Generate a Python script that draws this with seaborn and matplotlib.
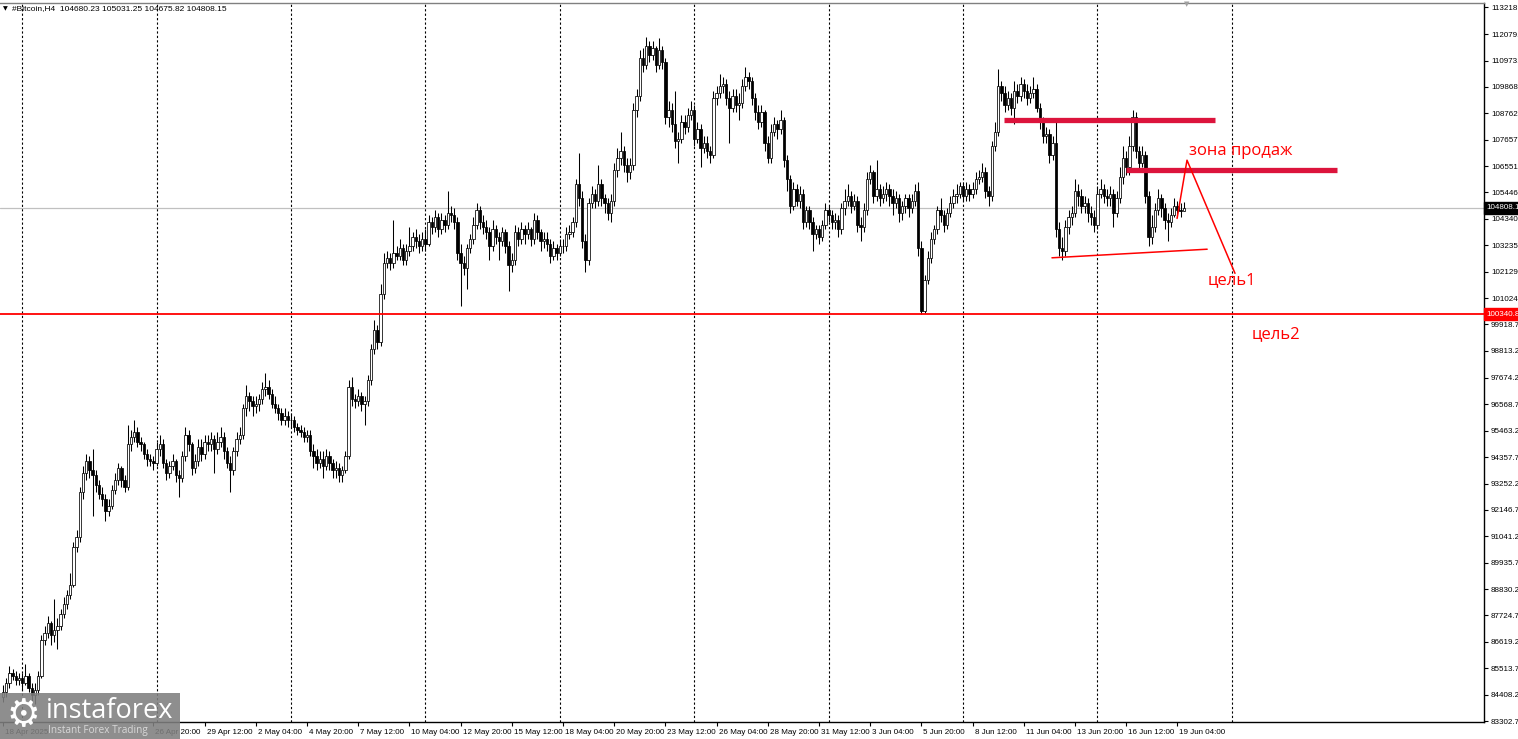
import numpy as np
import pandas as pd
import seaborn as sns
import matplotlib
matplotlib.use('Agg')
import matplotlib.pyplot as plt
import matplotlib.transforms as mtransforms
from matplotlib.patches import Rectangle

# H4 bars, prices in thousands of USD
OPEN_FIRST = 84.3
CLOSE_K = [
    84.5, 84.9, 85.3, 85.2, 85.0, 85.1, 84.9, 85.2, 84.7, 84.4,
    84.6, 85.2, 86.7, 87.0, 87.4, 86.9, 87.1, 87.3, 87.8, 88.2,
    88.6, 89.0, 90.6, 91.0, 92.9, 93.7, 94.2, 93.8, 93.6, 93.2,
    92.8, 92.6, 92.1, 92.3, 93.0, 93.4, 93.9, 93.4, 93.1, 94.9,
    95.2, 95.4, 95.0, 94.9, 94.5, 94.3, 94.2, 94.1, 94.7, 94.9,
    94.1, 93.7, 94.0, 94.2, 93.6, 93.5, 94.4, 95.3, 94.9, 93.9,
    94.2, 94.8, 94.5, 95.0, 94.9, 95.1, 94.7, 95.0, 95.2, 94.6,
    94.1, 93.8, 94.6, 95.1, 95.3, 96.4, 96.9, 96.7, 96.5, 96.6,
    96.8, 97.2, 97.3, 97.0, 96.6, 96.4, 96.2, 95.9, 96.1, 95.9,
    95.9, 95.6, 95.5, 95.4, 95.2, 95.3, 94.6, 94.4, 94.1, 94.3,
    94.0, 94.4, 94.1, 93.8, 93.9, 93.6, 93.8, 94.4, 97.3, 96.8,
    96.7, 96.9, 96.6, 96.7, 97.6, 98.9, 99.7, 99.2, 101.2, 102.5,
    102.7, 102.5, 102.9, 102.8, 103.1, 102.6, 103.0, 103.2, 103.6, 103.4,
    103.2, 103.5, 103.3, 104.2, 104.0, 104.4, 103.9, 104.3, 104.1, 104.6,
    104.5, 104.2, 102.9, 102.5, 102.3, 103.1, 103.5, 104.1, 104.7, 104.2,
    104.0, 103.8, 103.2, 103.9, 103.6, 103.4, 103.8, 103.2, 102.4, 102.6,
    103.8, 103.5, 103.9, 103.7, 103.9, 103.5, 104.3, 103.8, 103.4, 103.5,
    103.3, 102.8, 103.1, 102.9, 103.2, 103.2, 103.7, 103.8, 104.2, 105.8,
    105.2, 103.4, 102.6, 105.0, 105.4, 105.1, 105.8, 105.2, 105.0, 104.6,
    105.1, 106.4, 106.9, 107.2, 106.6, 106.3, 106.6, 108.9, 109.5, 111.1,
    110.8, 111.6, 111.2, 111.5, 110.8, 111.4, 110.9, 108.6, 108.9, 108.3,
    107.6, 107.7, 108.4, 108.2, 108.7, 108.9, 107.7, 108.1, 107.3, 107.5,
    107.2, 107.0, 109.4, 109.6, 109.9, 110.0, 109.4, 109.0, 109.5, 109.1,
    109.2, 109.9, 110.3, 110.1, 109.4, 108.8, 108.4, 108.8, 107.5, 106.9,
    108.0, 108.3, 108.1, 108.5, 106.8, 106.0, 104.9, 105.6, 105.1, 105.4,
    104.2, 104.7, 104.2, 103.7, 103.9, 103.6, 104.1, 104.7, 104.5, 104.2,
    104.3, 103.9, 104.8, 105.1, 105.3, 104.9, 105.1, 104.1, 104.0, 104.7,
    106.0, 106.3, 105.3, 105.6, 105.2, 105.4, 105.6, 105.3, 105.0, 105.2,
    104.6, 104.9, 105.2, 104.8, 105.1, 105.5, 103.1, 100.5, 101.8, 102.7,
    103.5, 103.9, 104.7, 104.5, 104.1, 104.6, 105.0, 105.3, 105.4, 105.7,
    105.3, 105.6, 105.4, 105.6, 106.0, 106.1, 106.3, 105.5, 105.3, 107.4,
    108.0, 109.9, 109.6, 109.1, 109.4, 109.0, 109.7, 109.5, 110.0, 109.7,
    109.4, 109.6, 109.8, 109.0, 108.4, 107.8, 107.9, 107.0, 107.5, 103.9,
    103.1, 103.0, 104.0, 104.4, 104.6, 105.5, 105.3, 104.9, 105.0, 104.6,
    104.4, 104.1, 105.4, 105.6, 105.3, 105.2, 105.4, 104.6, 105.2, 106.1,
    106.9, 106.5, 107.4, 108.6, 107.2, 106.7, 107.0, 105.3, 103.6, 104.0,
    104.7, 105.2, 104.8, 104.3, 104.2, 104.5, 104.9, 104.7, 104.68023, 104.80815,
]
HIGH_K = [
    84.8, 85.1, 85.6, 85.5, 85.4, 85.3, 85.3, 85.7, 85.3, 84.9,
    84.9, 85.4, 86.9, 87.3, 87.7, 87.5, 88.4, 87.6, 88.0, 88.5,
    88.8, 89.5, 90.8, 91.3, 93.1, 94.0, 94.5, 94.4, 94.7, 93.8,
    93.4, 93.1, 92.8, 92.6, 93.2, 93.7, 94.1, 94.0, 93.6, 95.7,
    95.5, 95.9, 95.6, 95.2, 95.0, 94.7, 94.5, 94.4, 95.0, 95.3,
    95.1, 94.3, 94.2, 94.5, 94.3, 93.8, 94.6, 95.6, 95.5, 95.0,
    94.5, 95.1, 95.1, 95.3, 95.3, 95.4, 95.3, 95.4, 95.6, 95.4,
    94.8, 94.4, 94.8, 95.4, 95.6, 96.6, 97.4, 97.1, 96.9, 96.9,
    97.0, 97.5, 97.9, 97.6, 97.2, 96.9, 96.6, 96.4, 96.4, 96.3,
    96.2, 96.1, 95.8, 95.7, 95.6, 95.5, 95.5, 94.9, 94.7, 94.6,
    94.6, 94.7, 94.6, 94.3, 94.2, 94.1, 94.0, 94.6, 97.6, 97.7,
    97.0, 97.2, 97.1, 96.9, 97.8, 99.1, 100.1, 99.9, 101.6, 102.9,
    103.0, 102.9, 104.3, 103.2, 103.5, 103.3, 103.3, 104.0, 103.8, 103.9,
    103.7, 103.8, 103.9, 104.5, 104.4, 104.7, 104.6, 104.6, 104.5, 105.5,
    104.9, 104.8, 104.4, 103.3, 102.8, 103.3, 103.7, 104.4, 105.0, 104.9,
    104.5, 104.3, 104.0, 104.3, 104.1, 103.8, 104.0, 103.9, 103.4, 102.9,
    104.1, 104.0, 104.2, 104.1, 104.2, 104.0, 104.6, 104.5, 103.9, 103.8,
    103.8, 103.5, 103.4, 103.3, 103.5, 103.5, 104.0, 104.1, 104.4, 106.0,
    107.1, 105.5, 103.7, 105.2, 105.7, 105.6, 106.6, 106.0, 105.4, 105.2,
    105.4, 106.7, 107.3, 108.0, 107.4, 106.9, 106.9, 109.2, 109.8, 111.4,
    111.5, 111.96, 111.8, 111.8, 111.6, 111.9, 111.6, 111.1, 109.3, 109.2,
    109.7, 108.0, 108.7, 108.7, 109.0, 109.3, 109.1, 108.4, 108.3, 107.8,
    107.8, 107.4, 109.7, 109.9, 110.4, 110.3, 110.2, 109.7, 109.8, 109.8,
    109.6, 110.2, 110.7, 110.5, 110.3, 109.6, 109.1, 109.1, 108.9, 107.8,
    108.3, 108.6, 108.5, 108.9, 108.6, 107.0, 106.2, 105.9, 105.8, 105.7,
    105.6, 104.9, 104.9, 104.4, 104.1, 104.1, 104.3, 105.0, 104.9, 104.7,
    104.6, 104.5, 105.0, 105.6, 105.8, 105.5, 105.4, 105.3, 104.4, 105.0,
    106.3, 106.6, 106.4, 106.8, 105.8, 105.7, 105.9, 105.8, 105.6, 105.5,
    105.4, 105.1, 105.4, 105.4, 105.4, 105.8, 105.9, 103.4, 102.0, 103.0,
    103.8, 104.1, 104.9, 105.2, 104.7, 104.8, 105.3, 105.6, 105.8, 105.9,
    105.9, 105.9, 105.8, 105.9, 106.3, 106.4, 106.7, 106.5, 105.7, 107.6,
    108.4, 110.6, 110.1, 109.9, 109.7, 109.6, 110.1, 110.0, 110.3, 110.2,
    110.0, 109.9, 110.3, 110.0, 109.2, 108.6, 108.2, 108.1, 107.8, 108.5,
    104.2, 103.6, 104.3, 104.7, 104.9, 106.0, 105.8, 105.6, 105.3, 105.2,
    104.9, 104.7, 105.7, 106.0, 105.8, 105.6, 105.7, 105.6, 105.5, 106.5,
    107.4, 107.2, 107.8, 108.9, 108.8, 107.4, 107.4, 107.2, 105.5, 104.5,
    105.0, 105.6, 105.4, 105.0, 104.6, 104.8, 105.2, 105.1, 105.0, 105.03125,
]
LOW_K = [
    84.1, 84.3, 84.7, 85.0, 84.8, 84.8, 84.6, 84.8, 84.5, 84.1,
    84.0, 84.4, 85.1, 86.5, 86.8, 86.5, 86.6, 86.3, 87.1, 87.6,
    88.0, 88.4, 88.9, 90.4, 90.8, 92.6, 93.4, 93.5, 91.9, 92.9,
    92.6, 92.3, 91.7, 91.9, 92.2, 92.8, 93.2, 93.1, 92.9, 93.0,
    94.6, 95.0, 94.8, 94.6, 94.3, 94.0, 94.0, 93.8, 94.0, 94.4,
    93.9, 93.4, 93.5, 93.8, 93.3, 92.7, 93.3, 94.2, 94.6, 93.6,
    93.7, 94.0, 94.2, 94.3, 94.6, 94.6, 93.7, 94.5, 94.8, 94.3,
    93.9, 92.9, 93.6, 94.4, 94.9, 95.1, 96.1, 96.3, 96.1, 96.2,
    96.3, 96.6, 96.9, 96.8, 96.4, 96.2, 95.9, 95.7, 95.7, 95.6,
    95.6, 95.4, 95.3, 95.2, 95.0, 95.0, 94.4, 93.9, 93.8, 93.9,
    93.5, 93.8, 93.8, 93.5, 93.5, 93.3, 93.3, 93.7, 94.3, 96.5,
    96.4, 96.5, 96.3, 95.7, 96.5, 97.4, 98.7, 98.9, 99.0, 101.0,
    102.3, 102.2, 102.3, 102.6, 102.6, 102.4, 102.4, 102.8, 103.0, 103.1,
    102.9, 103.0, 103.0, 103.2, 103.7, 103.8, 103.6, 103.7, 103.8, 103.9,
    104.2, 103.9, 102.6, 100.7, 102.0, 101.4, 102.9, 103.3, 103.9, 103.9,
    103.7, 103.5, 102.6, 103.0, 103.3, 102.6, 103.2, 102.9, 101.3, 102.1,
    102.4, 103.2, 103.3, 103.3, 103.5, 103.2, 103.3, 103.5, 103.0, 103.1,
    103.0, 102.5, 102.6, 102.6, 102.8, 102.9, 103.0, 103.5, 103.6, 104.0,
    104.9, 103.1, 102.1, 102.4, 104.8, 104.8, 104.9, 104.9, 104.6, 104.3,
    104.2, 104.9, 106.1, 106.6, 106.3, 105.9, 106.0, 106.4, 108.6, 109.3,
    110.5, 110.6, 110.9, 111.0, 110.5, 110.6, 110.6, 108.3, 108.2, 108.0,
    107.3, 106.7, 107.5, 107.9, 108.0, 108.5, 107.4, 107.5, 106.5, 107.1,
    106.9, 106.7, 106.9, 109.1, 109.4, 109.6, 109.1, 107.5, 108.8, 108.8,
    108.5, 109.0, 109.7, 109.8, 109.1, 108.5, 108.1, 108.2, 107.2, 106.7,
    106.7, 107.8, 107.7, 107.9, 106.5, 105.5, 104.6, 104.7, 104.9, 104.8,
    103.9, 104.0, 103.9, 103.0, 103.5, 103.3, 103.4, 103.9, 104.2, 103.9,
    103.9, 103.6, 103.7, 104.5, 104.9, 104.6, 104.7, 103.8, 103.4, 103.8,
    104.5, 105.8, 105.0, 105.1, 104.9, 105.0, 105.1, 104.9, 104.5, 104.8,
    104.2, 104.3, 104.6, 104.4, 104.6, 104.9, 102.8, 100.3408, 100.4, 101.6,
    102.5, 103.3, 103.7, 104.2, 103.8, 103.9, 104.4, 104.8, 105.0, 105.2,
    105.1, 105.1, 105.1, 105.2, 105.4, 105.8, 105.9, 105.2, 104.9, 105.1,
    107.2, 107.8, 109.3, 108.8, 108.9, 108.7, 108.3, 109.2, 109.3, 109.4,
    109.1, 109.2, 109.4, 108.8, 108.1, 107.5, 107.5, 106.7, 106.8, 103.6,
    102.8, 102.6, 102.8, 103.7, 104.1, 104.4, 104.9, 104.6, 104.6, 104.2,
    104.1, 103.8, 103.9, 105.2, 105.0, 104.9, 104.9, 104.0, 104.4, 105.0,
    105.8, 106.2, 106.2, 107.2, 106.9, 106.4, 106.5, 105.0, 103.2, 103.3,
    103.8, 104.5, 104.4, 103.9, 103.4, 104.0, 104.4, 104.4, 104.4, 104.67582,
]

Y_TICKS = [113218.20, 112079.20, 110973.70, 109868.20, 108762.70, 107657.20,
           106551.70, 105446.20, 104340.70, 103235.20, 102129.70, 101024.20,
           99918.70, 98813.20, 97674.20, 96568.70, 95463.20, 94357.70,
           93252.20, 92146.70, 91041.20, 89935.70, 88830.20, 87724.70,
           86619.20, 85513.70, 84408.20, 83302.70]

X_TICK_BARS = [0, 47, 63, 79, 95, 111, 127, 143, 159, 175, 191, 207, 223,
               239, 255, 271, 287, 303, 319, 335, 351, 367]
X_TICK_TEXT = ['18 Apr 2025', '26 Apr 20:00', '29 Apr 12:00', '2 May 04:00',
               '4 May 20:00', '7 May 12:00', '10 May 04:00', '12 May 20:00',
               '15 May 12:00', '18 May 04:00', '20 May 20:00', '23 May 12:00',
               '26 May 04:00', '28 May 20:00', '31 May 12:00', '3 Jun 04:00',
               '5 Jun 20:00', '8 Jun 12:00', '11 Jun 04:00', '13 Jun 20:00',
               '16 Jun 12:00', '19 Jun 04:00']
GRID_BARS = [6, 48, 90, 132, 174, 216, 258, 300, 342, 384]

LAST_PRICE = 104808.15
LEVEL_RED = 100340.8
HEADER = '#Bitcoin,H4  104680.23 105031.25 104675.82 104808.15'

# hand drawn analysis (bar index, price)
RES_TOP_X = [312.8, 378.8]
RES_TOP_Y = [108480, 108480]
RES_LOW_X = [350.9, 416.9]
RES_LOW_Y = [106400, 106400]
TREND_X = [327.8, 376.3]
TREND_Y = [102710, 103070]
ZIGZAG_X = [366.9, 370.0, 385.0]
ZIGZAG_Y = [104360, 106800, 102060]

# ---- build the frame
df = pd.DataFrame({
    'close': np.array(CLOSE_K) * 1000,
    'high': np.array(HIGH_K) * 1000,
    'low': np.array(LOW_K) * 1000,
})
df['open'] = df['close'].shift(1).fillna(OPEN_FIRST * 1000)
df['bar'] = np.arange(len(df))
df['bull'] = df['close'] >= df['open']

sns.set_theme(style='white')
plt.rcParams['font.family'] = ['Liberation Sans', 'DejaVu Sans']

W, H = 1518, 739
SMALL = 5.8
fig = plt.figure(figsize=(W / 100, H / 100), dpi=100)
ax = fig.add_axes([0, (H - 722) / H, 1484 / W, (722 - 3) / H])

ppx = (113218.2 - 83302.7) / (721 - 7)
ax.set_ylim(83302.7 - 1 * ppx, 113218.2 + 4 * ppx)
ax.set_xlim(-3 / 3.2, (1484 - 3) / 3.2)

# weekly separators
for b in GRID_BARS:
    ax.axvline(b, color='black', lw=0.8, ls=(0, (2, 2)), zorder=1)

ax.axhline(LAST_PRICE, color='#c0c0c0', lw=0.9, zorder=1)

# candles
ax.vlines(df['bar'], df['low'], df['high'], color='black', lw=0.75, zorder=2)
body_lo = df[['open', 'close']].min(axis=1)
body_h = (df['close'] - df['open']).abs().clip(lower=25)
fills = np.where(df['bull'], 'white', 'black')
ax.bar(df['bar'], body_h, bottom=body_lo, width=0.75, color=fills,
       edgecolor='black', linewidth=0.55, zorder=3)

ax.axhline(LEVEL_RED, color='#ff0000', lw=1.3, zorder=4)

# analysis drawings
ax.plot(RES_TOP_X, RES_TOP_Y, color='#dc143c', lw=3.8, solid_capstyle='butt', zorder=5)
ax.plot(RES_LOW_X, RES_LOW_Y, color='#dc143c', lw=3.8, solid_capstyle='butt', zorder=5)
ax.plot(TREND_X, TREND_Y, color='#ff0000', lw=1.1, zorder=5)
ax.plot(ZIGZAG_X, ZIGZAG_Y, color='#ff0000', lw=1.1, zorder=5)
ax.text(370.6, 106850, 'зона продаж', color='#ff0000', fontsize=12,
        family=['Open Sans', 'DejaVu Sans'], ha='left', va='bottom', zorder=6)
ax.text(376.3, 101760, 'цель1', color='#ff0000', fontsize=12,
        family=['Open Sans', 'DejaVu Sans'], ha='left', va='center', zorder=6)
ax.text(390.3, 99520, 'цель2', color='#ff0000', fontsize=12,
        family=['Open Sans', 'DejaVu Sans'], ha='left', va='center', zorder=6)

# axes styling
ax.spines['left'].set_visible(False)
ax.spines['top'].set_color('#808080')
ax.spines['top'].set_linewidth(1.0)
ax.spines['right'].set_color('black')
ax.spines['bottom'].set_color('black')
ax.spines['right'].set_linewidth(1.0)
ax.spines['bottom'].set_linewidth(1.0)

ax.yaxis.tick_right()
ax.set_yticks(Y_TICKS)
ax.set_yticklabels([f'{v:.2f}' for v in Y_TICKS])
ax.tick_params(axis='y', right=True, left=False, length=3, width=0.8, pad=2,
               labelsize=SMALL, colors='black')
ax.set_xticks(X_TICK_BARS)
ax.set_xticklabels(X_TICK_TEXT)
ax.tick_params(axis='x', bottom=True, length=3, width=0.8, pad=2,
               labelsize=SMALL, colors='black')
for lbl in ax.get_xticklabels():
    lbl.set_ha('left')
    lbl.set_transform(lbl.get_transform() + mtransforms.ScaledTranslation(2 / 100, 0, fig.dpi_scale_trans))
ax.set_xlabel('')
ax.set_ylabel('')

# price boxes on the scale
trans = mtransforms.blended_transform_factory(ax.transAxes, ax.transData)
ax.text(1.0015, LAST_PRICE, f'{LAST_PRICE:.2f}', transform=trans, ha='left', va='center',
        fontsize=SMALL, color='white', clip_on=False, zorder=7,
        bbox=dict(boxstyle='square,pad=0.3', fc='black', ec='black'))
ax.text(1.0015, LEVEL_RED, f'{LEVEL_RED:.2f}', transform=trans, ha='left', va='center',
        fontsize=SMALL, color='white', clip_on=False, zorder=7,
        bbox=dict(boxstyle='square,pad=0.3', fc='#ff0000', ec='#ff0000'))

# header
fig.text(3 / W, 1 - 9 / H, '\u25bc', fontsize=4.5, color='black', va='center',
         family=['DejaVu Sans'])
fig.text(12 / W, 1 - 9 / H, HEADER, fontsize=6.0, color='black', va='center')
fig.text(1187 / W, 1 - 4 / H, '\u25bc', fontsize=5, color='#a0a0a0', va='center',
         ha='center', family=['DejaVu Sans'])

# watermark
fig.patches.append(Rectangle((0, 0), 180 / W, (739 - 693) / H, transform=fig.transFigure,
                             facecolor='#7f7f7f', alpha=0.88, edgecolor='none', zorder=10))
fig.text(23 / W, (739 - 716) / H, '\u2699', fontsize=27, color='white', ha='center',
         va='center', family=['DejaVu Sans'], zorder=11)
fig.text(46 / W, (739 - 711) / H, 'instaforex', fontsize=19.5, color='white', ha='left',
         va='center', family=['Open Sans', 'DejaVu Sans'], zorder=11)
fig.text(48 / W, (739 - 731) / H, 'Instant Forex Trading', fontsize=7.2, color='#d8d8d8',
         ha='left', va='center', family=['Open Sans', 'DejaVu Sans'], zorder=11)

fig.savefig('out.png', dpi=100, facecolor='white')
